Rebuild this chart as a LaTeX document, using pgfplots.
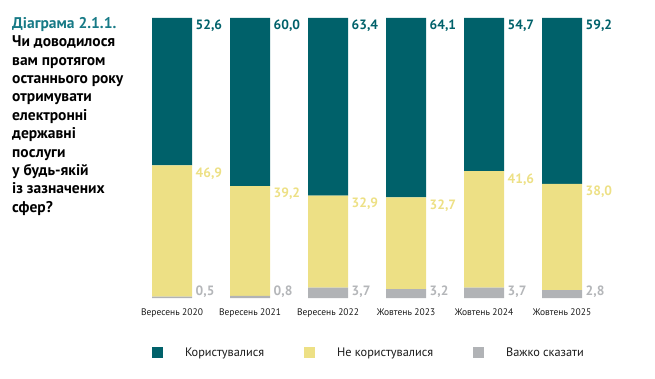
\documentclass[border=0pt]{standalone}
\usepackage{fontspec}
\setmainfont{PT Sans}
\usepackage{pgfplots}
\usepackage{pgfplotstable}
\pgfplotsset{compat=1.18}
\definecolor{teal1}{HTML}{00616A}
\definecolor{tealtitle}{HTML}{177A86}
\definecolor{yel}{HTML}{EDE085}
\definecolor{gry}{HTML}{B1B3B6}
\definecolor{gryt}{HTML}{B4B6B9}
\definecolor{txt}{HTML}{1A1A1A}
\tikzset{
  vl/.style={anchor=north west, inner sep=0pt, xshift=23.5pt, yshift=-2pt,
      font=\bfseries\fontsize{13.5}{15}\selectfont, text=#1},
  gl/.style={anchor=base west, inner sep=0pt, xshift=23.5pt, yshift=2.5pt,
      font=\bfseries\fontsize{13.5}{15}\selectfont, text=gryt},
}
\pgfplotstableread{
x used notused hard
0 52.6 46.9 0.5
1 60.0 39.2 0.8
2 63.4 32.9 3.7
3 64.1 32.7 3.2
4 54.7 41.6 3.7
5 59.2 38.0 2.8
}\datatab
\begin{document}
\begin{tikzpicture}
\useasboundingbox (0,0) rectangle (655pt,378pt);
\node[anchor=north west, align=left, inner sep=0pt,
      font=\bfseries\fontsize{15.5}{18.4}\selectfont] at (12pt,361pt)
 {\textcolor{tealtitle}{Діаграма 2.1.1.}\\
  Чи доводилося\\
  вам протягом\\
  останнього року\\
  отримувати\\
  електронні\\
  державні\\
  послуги\\
  у будь-якій\\
  із зазначених\\
  сфер?};
\begin{axis}[
  at={(133pt,80pt)}, anchor=south west,
  x=78pt, y=2.8pt,
  xmin=-0.5, xmax=5.5, ymin=0, ymax=100,
  ybar stacked, bar width=40pt,
  axis line style={draw=none},
  major tick length=0pt,
  ytick=\empty,
  xtick={0,...,5},
  xticklabels={Вересень 2020,Вересень 2021,Вересень 2022,Жовтень 2023,Жовтень 2024,Жовтень 2025},
  xticklabel style={font=\fontsize{9.5}{11}\selectfont, text=txt, inner sep=0pt, anchor=north, yshift=-11pt},
  clip=false,
  reverse legend,
  legend columns=3,
  legend style={at={(0.0406,-0.196)}, anchor=west, draw=none, fill=none,
    inner sep=0pt, outer sep=0pt,
    nodes={inner sep=0pt, font=\fontsize{12.3}{14}\selectfont, text=txt},
    /tikz/every odd column/.append style={column sep=22pt},
    /tikz/every even column/.append style={column sep=40pt}},
  sq/.style={legend image code/.code={\fill[##1] (0pt,-5.5pt) rectangle (11pt,5.5pt);}},
]
\addplot[fill=gry, draw=none, sq] table[x=x, y=hard] {\datatab};
\addlegendentry{Важко сказати}
\addplot[fill=yel, draw=none, sq] table[x=x, y=notused] {\datatab};
\addlegendentry{Не користувалися}
\addplot[fill=teal1, draw=none, sq] table[x=x, y=used] {\datatab};
\addlegendentry{Користувалися}
% value labels
\node[vl=teal1] at (axis cs:0,100) {52,6};
\node[vl=teal1] at (axis cs:1,100) {60,0};
\node[vl=teal1] at (axis cs:2,100) {63,4};
\node[vl=teal1] at (axis cs:3,100) {64,1};
\node[vl=teal1] at (axis cs:4,100) {54,7};
\node[vl=teal1] at (axis cs:5,100) {59,2};
\node[vl=yel] at (axis cs:0,47.4) {46,9};
\node[vl=yel] at (axis cs:1,40.0) {39,2};
\node[vl=yel] at (axis cs:2,36.6) {32,9};
\node[vl=yel] at (axis cs:3,35.9) {32,7};
\node[vl=yel] at (axis cs:4,45.3) {41,6};
\node[vl=yel] at (axis cs:5,40.8) {38,0};
\node[gl] at (axis cs:0,0) {0,5};
\node[gl] at (axis cs:1,0) {0,8};
\node[gl] at (axis cs:2,0) {3,7};
\node[gl] at (axis cs:3,0) {3,2};
\node[gl] at (axis cs:4,0) {3,7};
\node[gl] at (axis cs:5,0) {2,8};
\end{axis}
\end{tikzpicture}
\end{document}
